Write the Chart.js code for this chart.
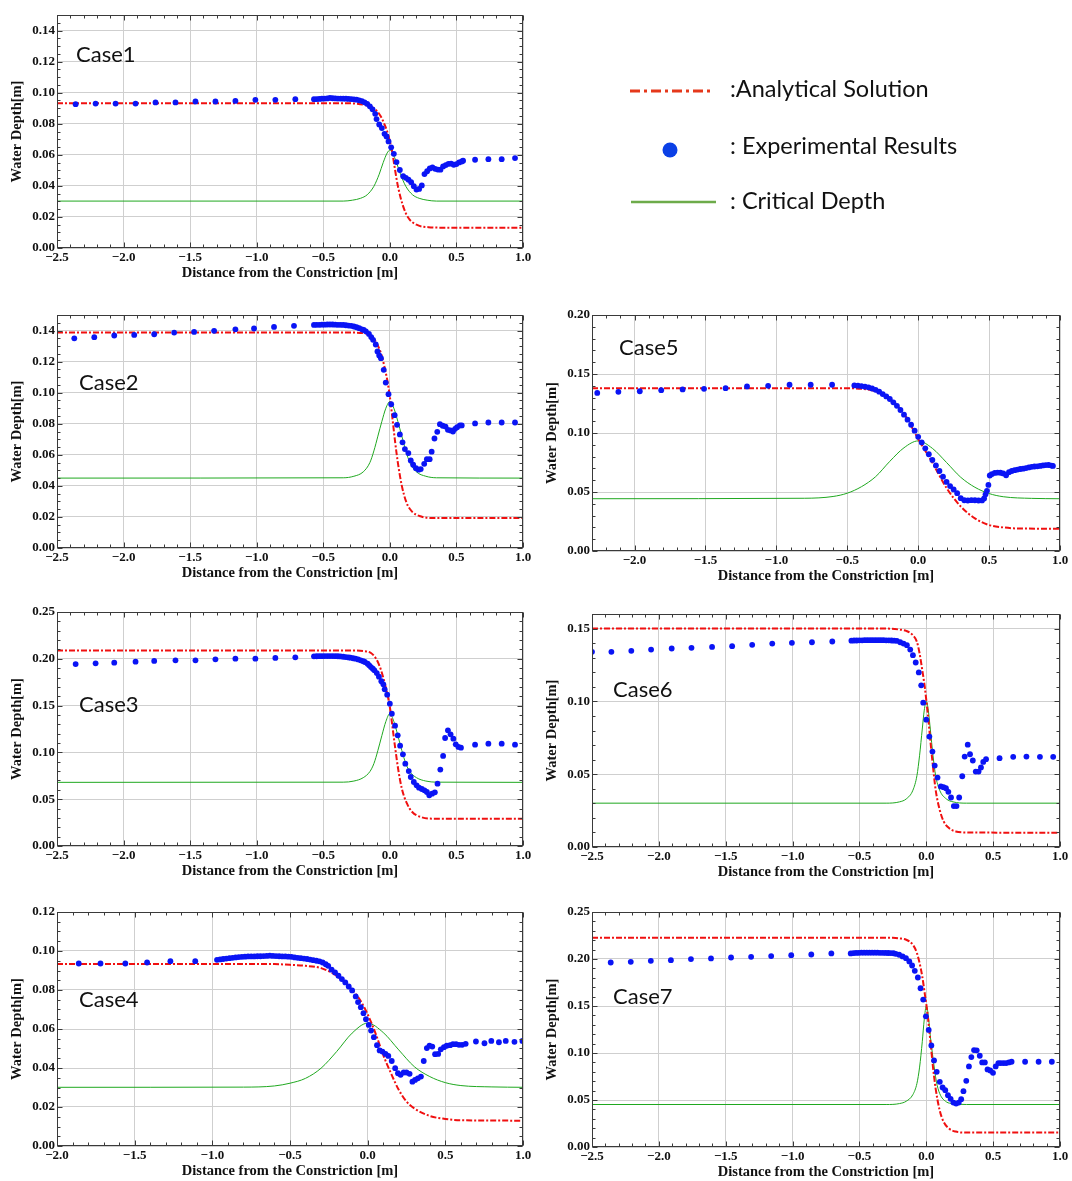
<!DOCTYPE html>
<html><head><meta charset="utf-8">
<script src="https://cdn.jsdelivr.net/npm/chart.js@4.4.1/dist/chart.umd.min.js"></script>
<style>
html,body{margin:0;padding:0;background:#fff;}
#page{position:relative;width:1072px;height:1181px;overflow:hidden;background:#fff;}
#page canvas{position:absolute;}
#overlay{position:absolute;left:0;top:0;z-index:5;}
</style></head><body><div id="page">
<svg id="overlay" width="1072" height="1181" xmlns="http://www.w3.org/2000/svg">
  <g font-family="Lato, 'Open Sans', sans-serif" font-size="22" fill="#111">
    <text x="76" y="62">Case1</text>
    <text x="79" y="390">Case2</text>
    <text x="79" y="712">Case3</text>
    <text x="79" y="1007">Case4</text>
    <text x="619" y="355">Case5</text>
    <text x="613" y="697">Case6</text>
    <text x="613" y="1004">Case7</text>
  </g>
  <line x1="630" y1="91" x2="712" y2="91" stroke="#e5381b" stroke-width="3" stroke-dasharray="10 4 3 4"/>
  <circle cx="670" cy="150" r="7.5" fill="#0b40e6"/>
  <line x1="631" y1="202" x2="716" y2="202" stroke="#6dab4a" stroke-width="2.5"/>
  <g font-family="Lato, 'Open Sans', sans-serif" font-size="23.5" fill="#111">
    <text x="730" y="97">:Analytical Solution</text>
    <text x="730" y="154">: Experimental Results</text>
    <text x="730" y="209">: Critical Depth</text>
  </g>
</svg>
</div>
<script>
// ---------------- tick values ----------------
const xTicksA = [-2.5, -2.0, -1.5, -1.0, -0.5, 0.0, 0.5, 1.0];
const xTicksB = [-2.0, -1.5, -1.0, -0.5, 0.0, 0.5, 1.0];
const yTicks014 = [0, 0.02, 0.04, 0.06, 0.08, 0.10, 0.12, 0.14];
const yTicks012 = [0, 0.02, 0.04, 0.06, 0.08, 0.10, 0.12];
const yTicks025 = [0, 0.05, 0.10, 0.15, 0.20, 0.25];
const yTicks020 = [0, 0.05, 0.10, 0.15, 0.20];
const yTicks015 = [0, 0.05, 0.10, 0.15];

// ---------------- Case 1 ----------------
const case1Exp = [[-2.36,0.0926],[-2.21,0.0930],[-2.06,0.0930],[-1.91,0.0930],[-1.76,0.0937],[-1.61,0.0937],[-1.46,0.0943],[-1.31,0.0943],[-1.16,0.0947],[-1.01,0.0954],[-0.86,0.0954],[-0.71,0.0958],
[-0.57,0.0958],[-0.55,0.0959],[-0.53,0.0960],[-0.51,0.0961],[-0.49,0.0962],[-0.47,0.0963],[-0.45,0.0966],[-0.43,0.0964],[-0.41,0.0963],[-0.39,0.0962],[-0.37,0.0962],[-0.35,0.0961],[-0.33,0.0961],[-0.31,0.0960],[-0.29,0.0959],[-0.27,0.0957],[-0.25,0.0955],[-0.23,0.0951],[-0.21,0.0946],[-0.19,0.0938],[-0.17,0.0928],[-0.15,0.0912],[-0.13,0.0893],[-0.11,0.0864],[-0.10,0.0830],[-0.08,0.0795],[-0.06,0.0772],[-0.04,0.0735],[-0.025,0.0718],[-0.01,0.0686],[0.01,0.0648],[0.03,0.0606],[0.05,0.0553],[0.075,0.0502],[0.10,0.0462],[0.12,0.0452],[0.14,0.0440],[0.16,0.0424],[0.18,0.0398],[0.20,0.0376],[0.22,0.0380],[0.24,0.0403],[0.26,0.0476],[0.28,0.0494],[0.30,0.0512],[0.32,0.0519],[0.34,0.0510],[0.36,0.0505],[0.38,0.0504],[0.40,0.0525],[0.42,0.0534],[0.44,0.0542],[0.46,0.0543],[0.48,0.0536],[0.50,0.0540],[0.52,0.0551],[0.54,0.0557],[0.55,0.0562],
[0.64,0.0568],[0.74,0.0572],[0.84,0.0572],[0.94,0.0579]];
const case1Ana = [[-2.5,0.0932],[-0.35,0.0932],[-0.25,0.0929],[-0.17,0.0917],[-0.12,0.0900],[-0.07,0.0850],[-0.04,0.0795],[-0.02,0.0750],[0,0.0686],[0.017,0.0622],[0.035,0.0525],[0.06,0.0400],[0.1,0.0268],[0.14,0.0193],[0.2,0.0150],[0.29,0.0134],[0.4,0.0131],[1.0,0.0131]];
const case1Crit = [[-2.5,0.0302],[-0.35,0.0302],[-0.28,0.0308],[-0.22,0.0320],[-0.17,0.0343],[-0.12,0.0397],[-0.08,0.0475],[-0.05,0.0550],[-0.02,0.0612],[0,0.0630],[0.02,0.0612],[0.05,0.0550],[0.08,0.0475],[0.12,0.0397],[0.17,0.0343],[0.22,0.0320],[0.28,0.0308],[0.35,0.0302],[1.0,0.0302]];

// ---------------- Case 2 ----------------
const case2Exp = [[-2.37,0.1350],[-2.22,0.1357],[-2.07,0.1368],[-1.92,0.1372],[-1.77,0.1376],[-1.62,0.1387],[-1.47,0.1391],[-1.32,0.1398],[-1.16,0.1408],[-1.02,0.1413],[-0.87,0.1423],[-0.72,0.1430],
[-0.57,0.1436],[-0.55,0.1437],[-0.53,0.1437],[-0.51,0.1438],[-0.49,0.1438],[-0.47,0.1439],[-0.45,0.1439],[-0.43,0.1439],[-0.41,0.1438],[-0.39,0.1437],[-0.37,0.1437],[-0.35,0.1436],[-0.33,0.1434],[-0.31,0.1432],[-0.29,0.1430],[-0.27,0.1426],[-0.25,0.1421],[-0.23,0.1415],[-0.21,0.1408],[-0.196,0.1404],[-0.18,0.1395],[-0.157,0.1378],[-0.14,0.1358],[-0.126,0.1340],[-0.106,0.1310],[-0.093,0.1265],[-0.08,0.1240],[-0.067,0.1222],[-0.046,0.1147],[-0.031,0.1065],[-0.01,0.0990],[0.01,0.0926],[0.036,0.0855],[0.054,0.0793],[0.075,0.0731],[0.095,0.0680],[0.113,0.0637],[0.139,0.0611],[0.157,0.0564],[0.175,0.0536],[0.196,0.0514],[0.216,0.0504],[0.232,0.0508],[0.258,0.0542],[0.278,0.0572],[0.299,0.0572],[0.314,0.0620],[0.335,0.0705],[0.356,0.0748],[0.376,0.0797],[0.397,0.0787],[0.418,0.0782],[0.436,0.0761],[0.456,0.0757],[0.474,0.0750],[0.49,0.0767],[0.505,0.0778],[0.526,0.0789],[0.54,0.0789],
[0.64,0.0802],[0.74,0.0808],[0.84,0.0808],[0.94,0.0808]];
const case2Ana = [[-2.5,0.1387],[-0.3,0.1387],[-0.196,0.1383],[-0.144,0.1366],[-0.106,0.1329],[-0.067,0.1254],[-0.041,0.1168],[-0.02,0.1083],[0,0.0975],[0.02,0.0830],[0.04,0.0680],[0.06,0.0550],[0.09,0.0400],[0.126,0.0290],[0.165,0.0236],[0.23,0.0204],[0.32,0.0193],[1.0,0.0193]];
const case2Crit = [[-2.5,0.0450],[-0.35,0.0452],[-0.27,0.0462],[-0.2,0.0490],[-0.15,0.0550],[-0.12,0.0625],[-0.09,0.0720],[-0.06,0.0815],[-0.03,0.0900],[0,0.0943],[0.03,0.0900],[0.06,0.0815],[0.09,0.0720],[0.12,0.0625],[0.15,0.0550],[0.2,0.0490],[0.27,0.0462],[0.35,0.0452],[1.0,0.0450]];

// ---------------- Case 3 ----------------
const case3Exp = [[-2.36,0.1944],[-2.21,0.1952],[-2.07,0.1959],[-1.91,0.1969],[-1.77,0.1977],[-1.61,0.1984],[-1.46,0.1984],[-1.31,0.1994],[-1.16,0.2001],[-1.01,0.2001],[-0.86,0.2009],[-0.71,0.2016],
[-0.57,0.2026],[-0.55,0.2027],[-0.53,0.2028],[-0.51,0.2028],[-0.49,0.2029],[-0.47,0.2029],[-0.45,0.2029],[-0.43,0.2029],[-0.41,0.2028],[-0.39,0.2027],[-0.37,0.2025],[-0.35,0.2022],[-0.33,0.2018],[-0.31,0.2015],[-0.296,0.2012],[-0.276,0.2006],[-0.258,0.2001],[-0.238,0.1993],[-0.219,0.1984],[-0.2,0.1975],[-0.188,0.1966],[-0.167,0.1948],[-0.155,0.1930],[-0.142,0.1912],[-0.128,0.1895],[-0.116,0.1877],[-0.098,0.1848],[-0.082,0.1809],[-0.064,0.1760],[-0.049,0.1727],[-0.039,0.1674],[-0.02,0.1617],[0.0,0.1521],[0.015,0.1414],[0.039,0.1286],[0.059,0.1182],[0.077,0.1072],[0.098,0.0979],[0.116,0.0880],[0.142,0.0801],[0.157,0.0737],[0.18,0.0684],[0.201,0.0648],[0.219,0.0623],[0.24,0.0609],[0.26,0.0595],[0.278,0.0577],[0.296,0.0541],[0.317,0.0559],[0.338,0.0573],[0.358,0.0666],[0.379,0.0816],[0.40,0.0962],[0.415,0.1154],[0.436,0.1236],[0.456,0.1193],[0.477,0.1147],[0.495,0.1086],[0.515,0.1058],[0.534,0.1051],
[0.64,0.1083],[0.74,0.1093],[0.84,0.1093],[0.94,0.1083]];
const case3Ana = [[-2.5,0.2090],[-0.3,0.2090],[-0.193,0.2083],[-0.142,0.2062],[-0.103,0.2000],[-0.07,0.1895],[-0.044,0.1770],[-0.02,0.1628],[0,0.1485],[0.02,0.1270],[0.039,0.1058],[0.064,0.0808],[0.09,0.0613],[0.129,0.0452],[0.168,0.0363],[0.232,0.0310],[0.32,0.0292],[1.0,0.0292]];
const case3Crit = [[-2.5,0.0680],[-0.35,0.0682],[-0.27,0.0694],[-0.2,0.0730],[-0.15,0.0795],[-0.12,0.0880],[-0.09,0.1020],[-0.06,0.1180],[-0.03,0.1330],[0,0.1414],[0.03,0.1330],[0.06,0.1180],[0.09,0.1020],[0.12,0.0880],[0.15,0.0795],[0.2,0.0730],[0.27,0.0694],[0.35,0.0682],[1.0,0.0680]];

// ---------------- Case 4 ----------------
const case4Exp = [[-1.86,0.0936],[-1.72,0.0936],[-1.56,0.0936],[-1.42,0.0941],[-1.27,0.0948],[-1.11,0.0948],
[-0.97,0.0955],[-0.95,0.0957],[-0.93,0.0959],[-0.91,0.0961],[-0.89,0.0963],[-0.87,0.0965],[-0.85,0.0967],[-0.83,0.0969],[-0.81,0.0970],[-0.79,0.0971],[-0.77,0.0972],[-0.75,0.0972],[-0.73,0.0972],[-0.71,0.0973],[-0.69,0.0973],[-0.67,0.0974],[-0.65,0.0975],[-0.63,0.0976],[-0.61,0.0975],[-0.59,0.0974],[-0.57,0.0973],[-0.55,0.0972],[-0.53,0.0972],[-0.51,0.0971],[-0.49,0.0970],[-0.47,0.0967],[-0.45,0.0965],[-0.43,0.0963],[-0.41,0.0961],[-0.39,0.0959],[-0.37,0.0956],[-0.35,0.0953],[-0.33,0.0950],[-0.31,0.0947],[-0.29,0.0941],[-0.27,0.0932],[-0.254,0.0924],[-0.232,0.0904],[-0.21,0.0890],[-0.188,0.0873],[-0.166,0.0856],[-0.144,0.0839],[-0.122,0.0818],[-0.10,0.0798],[-0.077,0.0767],[-0.062,0.0738],[-0.044,0.0712],[-0.027,0.0681],[-0.011,0.0650],[0.007,0.0621],[0.022,0.0592],[0.040,0.0558],[0.060,0.0517],[0.077,0.0490],[0.095,0.0484],[0.115,0.0472],[0.133,0.0462],[0.155,0.0436],[0.177,0.0399],[0.195,0.0373],[0.212,0.0365],[0.232,0.0377],[0.250,0.0377],[0.270,0.0370],[0.288,0.0330],[0.305,0.0339],[0.323,0.0347],[0.343,0.0356],[0.361,0.0436],[0.381,0.0502],[0.398,0.0515],[0.416,0.0510],[0.434,0.0471],[0.454,0.0472],[0.471,0.0496],[0.491,0.0507],[0.509,0.0514],[0.531,0.0517],[0.549,0.0522],[0.569,0.0522],[0.588,0.0519],[0.608,0.0519],[0.631,0.0524],
[0.697,0.0536],[0.752,0.0527],[0.796,0.0539],[0.845,0.0532],[0.889,0.0539],[0.945,0.0534],[0.996,0.0539]];
const case4Ana = [[-2.0,0.0933],[-0.6,0.0933],[-0.5,0.0929],[-0.4,0.0924],[-0.3,0.0912],[-0.2,0.0873],[-0.1,0.0801],[-0.05,0.0750],[0,0.0675],[0.05,0.0579],[0.1,0.0467],[0.15,0.0373],[0.2,0.0288],[0.25,0.0228],[0.3,0.0193],[0.4,0.0154],[0.5,0.0139],[0.6,0.0132],[1.0,0.0130]];
const case4Crit = [[-2.0,0.0301],[-0.8,0.0302],[-0.6,0.0308],[-0.5,0.0322],[-0.4,0.0347],[-0.3,0.0399],[-0.2,0.0484],[-0.1,0.0579],[0,0.0630],[0.1,0.0582],[0.2,0.0493],[0.3,0.0407],[0.4,0.0356],[0.5,0.0325],[0.6,0.0310],[0.8,0.0303],[1.0,0.0301]];

// ---------------- Case 5 ----------------
const case5Exp = [[-2.263,0.1340],[-2.114,0.1349],[-1.963,0.1354],[-1.812,0.1363],[-1.661,0.1369],[-1.51,0.1374],[-1.358,0.1380],[-1.207,0.1394],[-1.058,0.1400],[-0.907,0.1409],[-0.758,0.1409],[-0.607,0.1409],
[-0.45,0.1403],[-0.425,0.1401],[-0.40,0.1398],[-0.375,0.1393],[-0.35,0.1387],[-0.325,0.1377],[-0.30,0.1366],[-0.275,0.1350],[-0.25,0.1330],[-0.225,0.1310],[-0.20,0.1288],[-0.175,0.1260],[-0.15,0.1230],[-0.125,0.1195],[-0.10,0.1155],[-0.075,0.1113],[-0.05,0.1070],[-0.025,0.1020],[0.0,0.0968],[0.025,0.0920],[0.05,0.0870],[0.075,0.0820],[0.10,0.0772],[0.125,0.0725],[0.15,0.0678],[0.175,0.0630],[0.20,0.0585],[0.225,0.0550],[0.25,0.0522],[0.275,0.0490],[0.30,0.0448],[0.325,0.0430],[0.35,0.0428],[0.375,0.0431],[0.40,0.0430],[0.425,0.0428],[0.45,0.0429],[0.465,0.0445],[0.475,0.0480],[0.485,0.0510],[0.495,0.0560],[0.505,0.0640],[0.52,0.0652],[0.54,0.0662],[0.56,0.0665],[0.58,0.0663],[0.60,0.0657],[0.62,0.0642],[0.64,0.0668],[0.66,0.0678],[0.68,0.0685],[0.70,0.0690],[0.72,0.0695],[0.74,0.0698],[0.76,0.0703],[0.78,0.0708],[0.80,0.0713],[0.82,0.0716],[0.84,0.0718],[0.86,0.0721],[0.88,0.0725],[0.90,0.0728],[0.92,0.0729],[0.94,0.0724],[0.95,0.0721]];
const case5Ana = [[-2.3,0.1380],[-0.5,0.1380],[-0.4,0.1374],[-0.3,0.1354],[-0.2,0.1291],[-0.1,0.1163],[0,0.0950],[0.1,0.0749],[0.2,0.0534],[0.3,0.0377],[0.4,0.0277],[0.5,0.0220],[0.6,0.0200],[0.7,0.0191],[1.0,0.0189]];
const case5Crit = [[-2.3,0.0443],[-0.8,0.0447],[-0.6,0.0462],[-0.5,0.0490],[-0.4,0.0545],[-0.3,0.0630],[-0.2,0.0760],[-0.1,0.0875],[0,0.0933],[0.1,0.0870],[0.2,0.0750],[0.3,0.0625],[0.4,0.0540],[0.5,0.0487],[0.6,0.0460],[0.8,0.0446],[1.0,0.0443]];

// ---------------- Case 6 ----------------
const case6Exp = [[-2.5,0.1340],[-2.355,0.1340],[-2.206,0.1347],[-2.058,0.1356],[-1.904,0.1363],[-1.756,0.1368],[-1.602,0.1374],[-1.452,0.1379],[-1.302,0.1388],[-1.152,0.1397],[-1.005,0.1402],[-0.855,0.1406],[-0.703,0.1411],
[-0.56,0.1417],[-0.54,0.1418],[-0.52,0.1418],[-0.50,0.1419],[-0.48,0.1419],[-0.46,0.1420],[-0.44,0.1420],[-0.42,0.1420],[-0.40,0.1420],[-0.38,0.1420],[-0.36,0.1420],[-0.34,0.1420],[-0.32,0.1420],[-0.30,0.1419],[-0.28,0.1419],[-0.26,0.1418],[-0.24,0.1417],[-0.22,0.1416],[-0.195,0.1406],[-0.17,0.1397],[-0.145,0.1386],[-0.12,0.1356],[-0.10,0.1317],[-0.079,0.1267],[-0.056,0.1199],[-0.038,0.1110],[-0.023,0.0991],[0.0,0.0874],[0.023,0.0758],[0.046,0.0655],[0.063,0.0559],[0.084,0.0477],[0.109,0.0416],[0.129,0.0411],[0.147,0.0404],[0.165,0.0379],[0.185,0.0340],[0.206,0.0281],[0.226,0.0281],[0.246,0.0340],[0.269,0.0486],[0.287,0.0621],[0.31,0.0703],[0.327,0.0637],[0.348,0.0594],[0.37,0.0518],[0.391,0.0518],[0.409,0.0546],[0.426,0.0584],[0.447,0.0603],
[0.548,0.0610],[0.65,0.0619],[0.749,0.0621],[0.85,0.0619],[0.949,0.0619]];
const case6Ana = [[-2.5,0.1500],[-0.3,0.1500],[-0.2,0.1493],[-0.15,0.1484],[-0.1,0.1454],[-0.07,0.1409],[-0.05,0.1329],[-0.03,0.1215],[-0.01,0.1089],[0,0.1009],[0.01,0.0929],[0.03,0.0735],[0.05,0.0553],[0.07,0.0393],[0.1,0.0256],[0.13,0.0176],[0.17,0.0130],[0.22,0.0107],[0.3,0.0100],[1.0,0.0098]];
const case6Crit = [[-2.5,0.0301],[-0.3,0.0301],[-0.2,0.0310],[-0.15,0.0330],[-0.1,0.0390],[-0.07,0.0490],[-0.05,0.0630],[-0.03,0.0810],[-0.015,0.0940],[0,0.1000],[0.015,0.0940],[0.03,0.0810],[0.05,0.0630],[0.07,0.0490],[0.1,0.0390],[0.15,0.0330],[0.2,0.0310],[0.3,0.0301],[1.0,0.0301]];

// ---------------- Case 7 ----------------
const case7Exp = [[-2.36,0.1963],[-2.21,0.1970],[-2.06,0.1981],[-1.91,0.1988],[-1.76,0.1999],[-1.61,0.2006],[-1.46,0.2016],[-1.31,0.2023],[-1.16,0.2031],[-1.01,0.2041],[-0.86,0.2048],[-0.71,0.2059],
[-0.565,0.2059],[-0.545,0.2063],[-0.525,0.2065],[-0.505,0.2066],[-0.485,0.2067],[-0.465,0.2067],[-0.445,0.2067],[-0.425,0.2067],[-0.405,0.2067],[-0.385,0.2067],[-0.365,0.2067],[-0.345,0.2066],[-0.325,0.2066],[-0.305,0.2065],[-0.285,0.2064],[-0.265,0.2063],[-0.245,0.2061],[-0.228,0.2055],[-0.203,0.2045],[-0.177,0.2027],[-0.152,0.2009],[-0.127,0.1974],[-0.106,0.1931],[-0.086,0.1874],[-0.063,0.1803],[-0.043,0.1689],[-0.023,0.1568],[-0.003,0.1390],[0.018,0.1245],[0.038,0.1081],[0.058,0.0921],[0.078,0.0800],[0.101,0.0693],[0.122,0.0633],[0.142,0.0605],[0.162,0.0551],[0.182,0.0512],[0.203,0.0473],[0.223,0.0462],[0.243,0.0473],[0.261,0.0509],[0.278,0.0594],[0.299,0.0704],[0.319,0.0857],[0.337,0.0957],[0.357,0.1031],[0.377,0.1028],[0.40,0.0971],[0.418,0.0900],[0.438,0.0900],[0.458,0.0825],[0.478,0.0814],[0.499,0.0789],[0.519,0.0857],[0.539,0.0893],[0.557,0.0893],[0.577,0.0893],[0.597,0.0893],[0.618,0.0900],[0.638,0.0907],
[0.739,0.0907],[0.84,0.0907],[0.939,0.0907]];
const case7Ana = [[-2.5,0.2226],[-0.25,0.2226],[-0.2,0.2219],[-0.15,0.2205],[-0.1,0.2151],[-0.07,0.2063],[-0.05,0.1956],[-0.03,0.1814],[-0.01,0.1618],[0,0.1522],[0.01,0.1405],[0.03,0.1138],[0.05,0.0853],[0.07,0.0622],[0.1,0.0391],[0.13,0.0267],[0.17,0.0196],[0.22,0.0164],[0.3,0.0153],[1.0,0.0153]];
const case7Crit = [[-2.5,0.0452],[-0.3,0.0452],[-0.2,0.0462],[-0.15,0.0487],[-0.1,0.0558],[-0.07,0.0676],[-0.05,0.0850],[-0.03,0.1120],[-0.015,0.1360],[0,0.1500],[0.015,0.1400],[0.03,0.1180],[0.05,0.0950],[0.075,0.0700],[0.1,0.0570],[0.15,0.0480],[0.2,0.0462],[0.3,0.0452],[1.0,0.0452]];

// ---------------- panel layout (positions / axis ranges) ----------------
const panels = [
  {exp:case1Exp, ana:case1Ana, crit:case1Crit, xMin:-2.5, xMax:1.0, yMax:0.15, xTicks:xTicksA, yTicks:yTicks014, yMinor:0.005, box:[57,523,15,248]},
  {exp:case2Exp, ana:case2Ana, crit:case2Crit, xMin:-2.5, xMax:1.0, yMax:0.15, xTicks:xTicksA, yTicks:yTicks014, yMinor:0.005, box:[57,523,315,548]},
  {exp:case3Exp, ana:case3Ana, crit:case3Crit, xMin:-2.5, xMax:1.0, yMax:0.25, xTicks:xTicksA, yTicks:yTicks025, yMinor:0.01, box:[57,523,612,846]},
  {exp:case4Exp, ana:case4Ana, crit:case4Crit, xMin:-2.0, xMax:1.0, yMax:0.12, xTicks:xTicksB, yTicks:yTicks012, yMinor:0.005, box:[57,523,912,1146]},
  {exp:case5Exp, ana:case5Ana, crit:case5Crit, xMin:-2.3, xMax:1.0, yMax:0.20, xTicks:xTicksB, yTicks:yTicks020, yMinor:0.01, box:[592,1060,315,551]},
  {exp:case6Exp, ana:case6Ana, crit:case6Crit, xMin:-2.5, xMax:1.0, yMax:0.16, xTicks:xTicksA, yTicks:yTicks015, yMinor:0.01, box:[592,1060,614,847]},
  {exp:case7Exp, ana:case7Ana, crit:case7Crit, xMin:-2.5, xMax:1.0, yMax:0.25, xTicks:xTicksA, yTicks:yTicks025, yMinor:0.01, box:[592,1060,912,1147]}
];

const Y_AXIS_W = 57, X_AXIS_H = 36, PAD_T = 10, PAD_R = 14;
const FRAME = '#3a3a3a';

const frameTicks = {
  id: 'frameTicks',
  afterDraw(chart, args, opts) {
    const {ctx, chartArea: a, scales: {x, y}} = chart;
    ctx.save();
    ctx.strokeStyle = FRAME;
    ctx.lineWidth = 1;
    const L = Math.round(a.left) + 0.5, R = Math.round(a.right) - 0.5;
    const T = Math.round(a.top) + 0.5, B = Math.round(a.bottom) - 0.5;
    ctx.beginPath();
    const isMajor = (v, list) => list.some(m => Math.abs(m - v) < 1e-9);
    const xs = Math.ceil(x.min / 0.1 - 1e-9), xe = Math.floor(x.max / 0.1 + 1e-9);
    for (let k = xs; k <= xe; k++) {
      const v = +(k * 0.1).toFixed(6);
      const px = Math.round(x.getPixelForValue(v)) + 0.5;
      const len = isMajor(v, opts.xTicks) ? 5 : 3;
      ctx.moveTo(px, B); ctx.lineTo(px, B - len);
      ctx.moveTo(px, T); ctx.lineTo(px, T + len);
    }
    const st = opts.yMinor;
    const ys = Math.ceil(y.min / st - 1e-9), ye = Math.floor(y.max / st + 1e-9);
    for (let k = ys; k <= ye; k++) {
      const v = +(k * st).toFixed(6);
      const py = Math.round(y.getPixelForValue(v)) + 0.5;
      const len = isMajor(v, opts.yTicks) ? 5 : 3;
      ctx.moveTo(L, py); ctx.lineTo(L + len, py);
      ctx.moveTo(R, py); ctx.lineTo(R - len, py);
    }
    ctx.stroke();
    ctx.strokeRect(L, T, R - L, B - T);
    ctx.restore();
  }
};

const fmtX = v => (v < -1e-9 ? '\u2212' : '') + Math.abs(v).toFixed(1);
const fmtY = v => v.toFixed(2);
const tickFont = {family: "'Liberation Serif', 'DejaVu Serif', serif", weight: 'bold', size: 13};
const titleFont = {family: "'Liberation Serif', 'DejaVu Serif', serif", weight: 'bold', size: 14.5};
const toXY = arr => arr.map(([x, y]) => ({x, y}));

const page = document.getElementById('page');
panels.forEach((p, i) => {
  const [L, R, T, B] = p.box;
  const cv = document.createElement('canvas');
  const w = R - L + Y_AXIS_W + PAD_R, h = B - T + PAD_T + X_AXIS_H;
  cv.width = w; cv.height = h;
  cv.style.left = (L - Y_AXIS_W) + 'px';
  cv.style.top = (T - PAD_T) + 'px';
  cv.style.width = w + 'px'; cv.style.height = h + 'px';
  page.appendChild(cv);
  new Chart(cv, {
    type: 'scatter',
    data: {
      datasets: [
        {label: 'Experimental Results', data: toXY(p.exp), showLine: false, pointRadius: 2.9, pointHoverRadius: 2.9,
         pointBackgroundColor: '#0a14f5', pointBorderWidth: 0, pointBorderColor: '#0a14f5'},
        {label: 'Analytical Solution', data: toXY(p.ana), showLine: true, pointRadius: 0, borderColor: '#f01010',
         borderWidth: 2, borderDash: [6, 2, 2, 2], cubicInterpolationMode: 'monotone', fill: false},
        {label: 'Critical Depth', data: toXY(p.crit), showLine: true, pointRadius: 0, borderColor: '#1fa81f',
         borderWidth: 1, cubicInterpolationMode: 'monotone', fill: false}
      ]
    },
    options: {
      responsive: false, animation: false, devicePixelRatio: 1,
      layout: {padding: {left: 0, right: PAD_R, top: PAD_T, bottom: 0}},
      plugins: {legend: {display: false}, tooltip: {enabled: false},
                frameTicks: {xTicks: p.xTicks, yTicks: p.yTicks, yMinor: p.yMinor}},
      scales: {
        x: {type: 'linear', min: p.xMin, max: p.xMax,
            afterBuildTicks: s => { s.ticks = p.xTicks.map(v => ({value: v})); },
            afterFit: s => { s.height = X_AXIS_H; },
            grid: {color: '#cfcfcf', lineWidth: 1, drawTicks: false}, border: {display: false},
            ticks: {padding: 2, font: tickFont, color: '#111', maxRotation: 0, autoSkip: false, callback: fmtX},
            title: {display: true, text: 'Distance from the Constriction [m]', font: titleFont, color: '#111', padding: {top: 0, bottom: 2}}},
        y: {type: 'linear', min: 0, max: p.yMax,
            afterBuildTicks: s => { s.ticks = p.yTicks.map(v => ({value: v})); },
            afterFit: s => { s.width = Y_AXIS_W; },
            grid: {color: '#cfcfcf', lineWidth: 1, drawTicks: false}, border: {display: false},
            ticks: {padding: 2, font: tickFont, color: '#111', autoSkip: false, callback: fmtY},
            title: {display: true, text: 'Water Depth[m]', font: titleFont, color: '#111', padding: {top: 9, bottom: 0}}}
      }
    },
    plugins: [frameTicks]
  });
});
</script>
</body></html>
